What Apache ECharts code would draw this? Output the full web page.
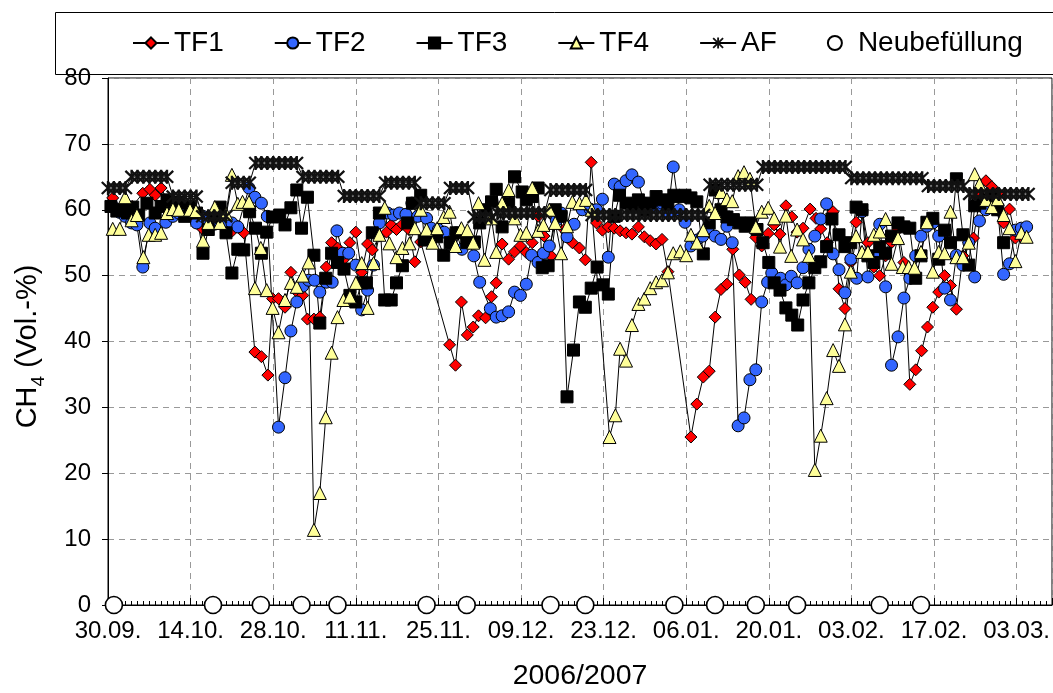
<!DOCTYPE html>
<html>
<head>
<meta charset="utf-8">
<script src="https://cdn.jsdelivr.net/npm/echarts@6/dist/echarts.min.js"></script>
<style>
html,body{margin:0;padding:0;background:#fff;}
#chart{width:1053px;height:693px;}
</style>
</head>
<body>
<div id="chart"></div>
<script>
// x values are days after 30.09.2006
var tickLabels = ['30.09.','14.10.','28.10.','11.11.','25.11.','09.12.','23.12.','06.01.','20.01.','03.02.','17.02.','03.03.'];
var seriesNames = ['TF1','TF2','TF3','TF4','AF','Neubefüllung'];

var tf1 = [[0.8,61.8],[2,60.2],[3,59.5],[4.1,60.5],[5.9,62.5],[7.1,63.1],[8,62.2],[9,63.3],[10.2,61.2],[11.2,60],[12.2,59.3],[13.2,60.2],[14.2,58.8],
[15.9,57.2],[17,58.5],[18.1,59.6],[19.1,58],[20,57.5],[21.1,56.8],[22,57.5],[23,56.5],[24.9,38.4],[26,37.7],[27.1,34.9],[27.9,46.5],[28.9,46.5],[30,45.2],
[31,50.5],[32.3,47.3],[33,47],[33.8,43.4],[34.9,43.4],[35.9,43.7],[37,51.3],[37.9,55],[38.9,54.2],[39.9,52.4],[41,55],[42,56.6],[43,50.5],[44,54.8],
[44.8,53.9],[46,56],[47.2,56.6],[48,57.7],[48.9,57],[49.9,57.8],[51,57],[52,52.1],[53,55.1],[57.9,39.5],[58.9,36.4],[59.9,46],[60.9,41],[61.9,42.2],
[62.8,43.9],[64,43.6],[65,46.8],[65.8,48.9],[66.8,54.8],[67.9,52.5],[68.9,53.6],[69.9,54.5],[70.9,53.5],[71.9,55],[72.9,59],[73.9,56],[75.1,53],[76,59],
[77.3,57],[78.7,55],[79.9,54.2],[80.9,52.4],[81.9,67.2],[82.8,58],[83.8,56.9],[84.8,57.4],[85.8,57.2],[86.8,56.8],[87.8,56.5],[88.8,56.3],[89.9,57.4],
[90.9,55.9],[91.9,55.3],[92.9,54.8],[93.9,55.5],[94.9,50.6],[98.8,25.5],[99.8,30.5],[100.9,34.6],[101.9,35.5],[102.9,43.7],[103.9,47.9],[104.9,48.7],
[105.9,54],[107,50.1],[108,49],[109,46.4],[109.8,55.8],[110.8,54.5],[111.9,56.4],[112.9,57.7],[113.9,56.3],[114.9,60.6],[115.9,58.9],[116.8,56.6],
[117.8,57.2],[119,60.1],[120,58.7],[120.8,57.1],[121.9,55],[122.9,59.7],[123.9,48],[124.9,45],[125.9,52],[126.8,58.1],[127.8,60],[128.8,55],[129.8,51.3],
[130.8,50],[131.8,53],[132.8,55],[133.9,57],[134.9,52],[135.9,33.5],[136.9,35.7],[137.9,38.6],[138.9,42.2],[139.8,45.2],[140.8,47.5],[141.8,50],
[142.8,48.5],[143.8,44.9],[144.9,53],[145.9,55],[146.7,55.7],[147.8,62],[148.8,64.4],[149.8,63.5],[150.8,62.5],[151.8,58],[152.8,60.1],[153.8,55.7],[154.8,56]];

var tf2 = [[0.8,60.5],[2,59.6],[2.9,59],[4,58],[4.9,57.7],[5.9,51.3],[7.1,58],[8,57.2],[9.8,58.1],[11,59],[12,59.5],[13,60.3],[14,59.5],[15,58],
[16.1,59],[17,58.3],[18,57.8],[19,58.5],[20,57.5],[21,58],[22,57.4],[23.9,63.3],[24.9,61.9],[26,61],[27,59],[28.9,27],[30,34.5],[31,41.6],[32,46],
[33,48.4],[34,49.3],[35,49.3],[35.9,47.5],[37,49],[38,49],[38.8,56.8],[39.8,53.4],[40.8,53.4],[42,51.6],[43,44.8],[44,47.8],[45,51.6],[46,58],[47.4,59.5],
[48.4,59.2],[49.4,59.5],[50.5,59.3],[51.5,61],[52.5,59],[54,58.7],[54.8,57.2],[56,57],[57,56.6],[58,55],[59,56.5],[60,54],[61,55.5],[62,53],[63,49],
[64.8,45],[65.8,43.7],[66.8,43.9],[67.9,44.5],[68.9,47.5],[69.9,47],[70.9,48.7],[71.8,53.1],[72.9,52],[73.8,53.4],[74.8,54.5],[76,58.4],[76.8,59.5],
[77.8,55.9],[79,57.8],[80.4,60],[81.7,60.1],[82.8,60],[83.8,61.6],[84.8,52.8],[85.8,63.9],[86.8,63.5],[87.8,64.4],[88.8,65.3],[89.9,64.2],[90.9,61],
[91.9,60.5],[92.9,60.3],[93.9,61],[94.9,59.5],[95.8,66.5],[96.8,60],[97.8,58.1],[98.8,54.5],[99.8,55.4],[100.8,56],[101.7,57.2],[102.9,56],[103.9,55.5],
[104.9,57.5],[105.8,55],[106.8,27.2],[107.8,28.4],[108.8,34.2],[109.8,35.7],[110.8,46],[111.8,49],[112.5,50.4],[114,49.6],[114.9,48.6],[115.8,49.9],
[116.8,48.9],[117.8,51.2],[118.8,54],[119.8,56],[120.8,58.6],[121.8,60.9],[122.9,53.3],[123.9,50.9],[124.9,47.4],[125.9,52.5],[126.9,49.6],[127.8,59.7],
[128.8,49.8],[129.8,53],[130.8,57.8],[131.8,48.3],[132.8,36.4],[133.9,40.7],[134.9,46.6],[135.9,49.6],[136.9,53],[137.8,56],[138.8,57.5],[139.8,58],
[140.8,56],[141.8,48.1],[142.8,46.3],[143.8,53.1],[144.9,51.6],[145.9,55],[146.9,49.8],[147.7,58.3],[148.8,60],[149.8,61.5],[150.8,60],[151.8,50.2],
[152.8,51.8],[153.8,56.9],[154.8,57.2],[155.7,57.4]];

var tf3 = [[0.5,60.5],[1.5,59.8],[2.5,60],[3.3,59.5],[4.2,60.4],[5.2,59.2],[6.6,61],[8,59.5],[9,60.5],[10,61.5],[11,60],[12,61],[13,59],[14,60.5],
[15,59.5],[16.1,53.4],[17,57],[18,59],[19,60.4],[20,56.5],[21,50.4],[22,54],[23,53.9],[24,59.7],[25,57.2],[26,53.4],[26.9,56.6],[27.9,58.9],[29.1,59.2],
[30,57.7],[31,60.3],[32,63],[32.8,57.2],[33.8,61.9],[34.9,53.1],[35.9,42.8],[36.9,49.6],[37.9,53.4],[38.9,52],[40,51],[41,47],[42,46],[43,48.9],
[43.8,48.9],[44.8,56.5],[46,59.5],[46.9,46.3],[48,46.3],[48.9,48.9],[49.9,51.5],[50.8,58],[51.6,61],[53,62.2],[53.6,55.4],[54.6,55.5],[55.7,55.9],
[56.9,53.1],[58,55],[59,56.5],[60.8,55],[62.1,55.1],[63,58],[64,60],[65,61.2],[65.8,63.1],[66.8,57.4],[67.9,61],[68.9,65],[70.2,62.7],[70.9,61.5],
[71.9,62],[72.9,63.3],[73.6,51.2],[74.6,51.5],[75.8,60],[76.8,59],[77.8,31.6],[78.9,38.7],[79.9,46],[80.9,45.2],[81.9,48.1],[82.9,51.3],[83.9,48.6],
[84.8,47.2],[85.8,59],[86.7,62.2],[87.8,61],[88.8,60.5],[89.9,61.5],[90.9,60],[91.9,61],[92.9,62],[93.9,61.5],[94.9,60.8],[95.9,62.2],[96.8,62],
[97.8,62.2],[98.8,61.8],[99.8,61.2],[100.9,53.3],[101.9,58],[102.9,63],[103.9,60],[104.9,58.9],[106,58.5],[107,58],[108,57.5],[109,58],[110,57],
[111,55],[112,52],[112.9,48.9],[113.9,47.8],[114.9,45.1],[115.9,44],[116.9,42.5],[117.8,46.3],[118.8,48.9],[119.8,51.2],[120.8,52.1],[121.8,54.4],
[122.7,58.6],[123.9,56.2],[124.9,54.4],[125.9,55],[126.8,60.4],[127.8,60],[128.8,53],[129.8,52],[130.8,54.4],[131.8,53.4],[132.8,56],[133.9,58],
[134.9,57.4],[135.9,57.2],[136.9,49.6],[137.8,53],[138.8,58.1],[139.8,58.7],[140.8,52.5],[141.8,56.9],[142.8,55],[143.8,64.7],[144.9,56.2],[145.9,51.6],
[146.9,60.6],[147.8,61],[148.8,61.5],[149.8,62],[150.8,60],[151.8,55]];

var tf4 = [[0.8,57.1],[2,57.1],[2.9,61.9],[4,58.4],[4.9,59.2],[6,52.8],[6.9,56.2],[8,56.2],[9,56.5],[10,59.5],[11,60.1],[12,60],[13.9,60],[14.9,59.8],
[16.1,55.3],[17,58],[18.1,60.4],[19,58],[20,59.4],[21,65.3],[22,60.9],[22.8,61.2],[23.9,61.2],[24.9,48.1],[25.9,54.2],[26.9,47.8],[27.9,45.1],[28.9,41.4],
[30,46.3],[31,48.9],[32,48.3],[33,50],[34,52],[34.9,11.4],[35.9,17],[36.9,28.5],[37.9,38.3],[38.9,43.7],[39.9,46.3],[41,46.8],[42,48.9],[43,51.9],
[44,45.1],[45,51.9],[46,56.2],[46.9,60.3],[47.7,54.9],[48.9,52.8],[49.9,54.2],[51.1,54.9],[52,57.2],[53,60],[54,57],[55,55],[55.8,57.2],[56.9,58.9],
[57.9,59.7],[58.9,54.5],[59.9,57.2],[60.9,56.9],[61.9,55],[62.8,61],[63.8,52.4],[65,58.7],[65.8,53.6],[66.8,61],[67.9,63],[68.9,58.7],[69.9,56.2],
[70.9,56.5],[71.9,63.3],[72.9,56.8],[73.8,57.7],[74.8,60],[75.8,58],[76.8,53.4],[77.8,57.5],[78.7,61.2],[79.9,61],[81,61.5],[82,60],[85,25.5],[86,28.8],
[86.8,38.9],[87.8,37.1],[88.8,42.5],[89.9,45.7],[90.9,46.5],[91.9,48.1],[92.9,49],[93.9,49.3],[94.9,50.5],[95.8,53.4],[97,53.7],[98,53.1],[98.8,56.2],
[99.8,55],[100.9,56.9],[101.9,60.6],[102.9,59.5],[103.9,62.7],[104.9,61.6],[105.8,61.3],[106.8,65.1],[107.8,65.7],[108.8,64.7],[109.8,57.4],[110.8,59.7],
[111.9,60.3],[112.9,58.7],[113.9,54.4],[114.9,59.1],[115.8,53],[116.8,57],[117.8,55.5],[118.8,53],[119.8,20.5],[120.8,25.7],[121.8,31.4],[122.9,38.7],
[123.9,36.3],[124.9,42.6],[125.9,50.6],[126.8,56],[127.8,53.6],[128.8,53.6],[129.8,56.2],[130.8,56.7],[131.8,58.6],[132.8,51.8],[133.9,55.7],[134.7,51.3],
[135.7,51.3],[136.7,51.2],[137.8,53.6],[138.8,58.1],[139.8,50.6],[140.8,53.6],[141.8,53.4],[142.8,59.7],[143.8,52.8],[144.9,52.8],[145.9,55],[146.9,65.4],
[147.7,63.9],[148.8,61.5],[149.8,60.4],[150.8,61.6],[151.8,59.2],[152.8,57.2],[153.8,52.2],[154.8,56.5],[155.7,55.9]];

var af = [[0,63.3],[1,63.3],[2,63.3],[3,63.3],[4,65],[5,65],[6,65],[7,65],[8,65],[9,65],[10,65],[11,62],[12,62],[13,62],[14,62],[15,62],
[16,59],[17,59],[18,59],[19,59],[20,59],[21,64.1],[22,64.1],[23,64.1],[24,64.1],[25,67.1],[26,67.1],[27,67.1],[28,67.1],[29,67.1],[30,67.1],[31,67.1],[32,67.1],
[33,65],[34,65],[35,65],[36,65],[37,65],[38,65],[39,65],[40,62.1],[41,62.1],[42,62.1],[43,62.1],[44,62.1],[45,62.1],[46,62.1],
[47,64.1],[48,64.1],[49,64.1],[50,64.1],[51,64.1],[52,64.1],[53,61],[54,61],[55,61],[56,61],[57,61],[58,63.3],[59,63.3],[60,63.3],[61,63.3],
[62,58.9],[63,58.9],[64,58.9],[65,58.9],[66,59.5],[67,59.5],[68,59.5],[69,59.5],[70,59.5],[71,59.5],[72,59.5],[73,59.5],[74,59.5],
[75,63],[76,63],[77,63],[78,63],[79,63],[80,63],[81,63],
[82,59.2],[83,59.2],[84,59.2],[85,59.2],[86,59.2],[87,59.2],[88,59.2],[89,59.2],[90,59.2],[91,59.2],[92,59.2],[93,59.2],[94,59.2],[95,59.2],[96,59.2],
[97,59.2],[98,59.2],[99,59.2],[100,59.2],[101,59.2],
[102,63.8],[103,63.8],[104,63.8],[105,63.8],[106,63.8],[107,63.8],[108,63.8],[109,63.8],[110,63.8],
[111,66.5],[112,66.5],[113,66.5],[114,66.5],[115,66.5],[116,66.5],[117,66.5],[118,66.5],[119,66.5],[120,66.5],[121,66.5],[122,66.5],[123,66.5],[124,66.5],[125,66.5],
[126,64.8],[127,64.8],[128,64.8],[129,64.8],[130,64.8],[131,64.8],[132,64.8],[133,64.8],[134,64.8],[135,64.8],[136,64.8],[137,64.8],[138,64.8],
[139,63.6],[140,63.6],[141,63.6],[142,63.6],[143,63.6],[144,63.6],[145,63.6],
[146,62.4],[147,62.4],[148,62.4],[149,62.4],[150,62.4],[151,62.4],[152,62.4],[153,62.4],[154,62.4],[155,62.4],[156,62.4]];

var refillDays = [1,17.8,25.9,32.8,38.9,54,60.8,75,80.9,96,102.9,109.8,116.8,130.8,137.8];
var refillValues = [0,0,0,0,0,0,0,0,0,0,0,0,0,0,0];

var FONT = '"Liberation Sans", Arial, sans-serif';
var asterisk = 'path://M4.2,0L5.8,0L5.8,10L4.2,10Z M0.2,1.3L1.3,0.2L9.8,8.7L8.7,9.8Z M8.7,0.2L9.8,1.3L1.3,9.8L0.2,8.7Z';

function lineSeries(name, data, symbol, size, fill) {
  return {
    name: name, type: 'line', data: data, symbol: symbol, symbolSize: size,
    showAllSymbol: true, clip: false, animation: false,
    lineStyle: {color: '#000', width: 1},
    itemStyle: {color: fill, borderColor: '#000', borderWidth: 1}
  };
}

var chart = echarts.init(document.getElementById('chart'), null, {renderer: 'canvas'});
var refillData = refillDays.map(function (d, i) { return [d, refillValues[i]]; });

chart.setOption({
  backgroundColor: '#fff',
  animation: false,
  textStyle: {fontFamily: FONT},
  graphic: [{
    type: 'rect', left: 53, top: 10,
    shape: {width: 1030, height: 62},
    style: {fill: 'none', stroke: '#000', lineWidth: 1}, z: 0
  }],
  legend: {
    data: seriesNames,
    left: 127, top: 24,
    itemWidth: 36, itemHeight: 14, itemGap: 50,
    textStyle: {fontSize: 28, color: '#000', fontFamily: FONT}
  },
  grid: {left: 108, right: 1, top: 78, bottom: 88, show: true, borderColor: '#000', borderWidth: 1,
         containLabel: false, outerBoundsMode: 'none'},
  xAxis: {
    type: 'value', min: 0, max: 160, interval: 14,
    axisLine: {show: true, onZero: false, lineStyle: {color: '#000', width: 1}},
    axisTick: {show: true, inside: true, length: 7, lineStyle: {color: '#000'}},
    minorTick: {show: true, splitNumber: 14, length: 4, lineStyle: {color: '#000'}},
    splitLine: {show: true, lineStyle: {color: '#999', type: [6, 5], width: 1}},
    axisLabel: {
      fontSize: 24, color: '#000', margin: 14, fontFamily: FONT,
      formatter: function (v) { var i = v / 14; return (i === Math.round(i) && tickLabels[i]) ? tickLabels[i] : ''; }
    },
    name: '2006/2007', nameLocation: 'middle', nameGap: 57,
    nameTextStyle: {fontSize: 28.5, color: '#000', fontFamily: FONT}
  },
  yAxis: {
    type: 'value', min: 0, max: 80, interval: 10,
    axisLine: {show: true, lineStyle: {color: '#000', width: 1}},
    axisTick: {show: true, inside: false, length: 6, lineStyle: {color: '#000'}},
    splitLine: {show: true, lineStyle: {color: '#999', type: [6, 5], width: 1}},
    axisLabel: {fontSize: 24, color: '#000', margin: 17, fontFamily: FONT},
    name: '{m|CH}{s|4}{m| (Vol.-%)}', nameLocation: 'middle', nameGap: 66, nameRotate: 90,
    nameTextStyle: {
      color: '#000', fontFamily: FONT, padding: [0, 10, 0, 0],
      rich: {
        m: {fontSize: 29, color: '#000', fontFamily: FONT, lineHeight: 32, verticalAlign: 'bottom'},
        s: {fontSize: 19, color: '#000', fontFamily: FONT, lineHeight: 22, verticalAlign: 'bottom', padding: [0, 0, -6, 0]}
      }
    }
  },
  series: [
    lineSeries('TF1', tf1, 'diamond', 12, '#FF0000'),
    lineSeries('TF2', tf2, 'circle', 12, '#3366FF'),
    lineSeries('TF3', tf3, 'rect', 12, '#000000'),
    lineSeries('TF4', tf4, 'triangle', 13, '#FFFF99'),
    {
      name: 'AF', type: 'line', data: af, symbol: asterisk, symbolSize: 14, showAllSymbol: true, clip: false,
      lineStyle: {color: '#000', width: 1},
      itemStyle: {color: '#111', borderWidth: 0}
    },
    {
      name: 'Neubefüllung', type: 'scatter', data: refillData, symbol: 'circle', symbolSize: 17, clip: false,
      itemStyle: {color: '#fff', borderColor: '#000', borderWidth: 1.6, opacity: 1},
      emphasis: {disabled: true}
    }
  ]
});
</script>
</body>
</html>
